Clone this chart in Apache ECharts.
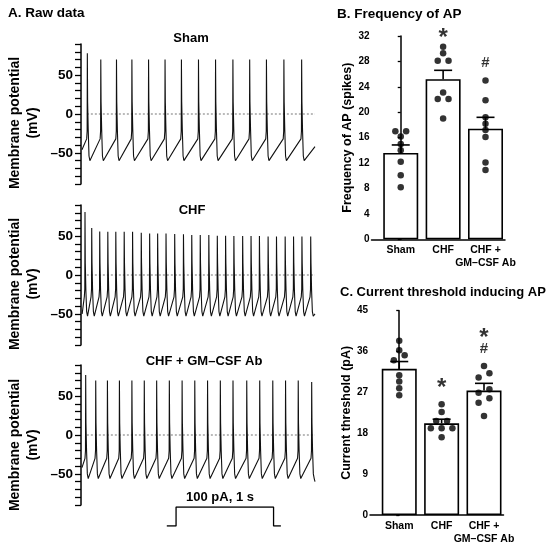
<!DOCTYPE html>
<html>
<head>
<meta charset="utf-8">
<script src="https://cdn.jsdelivr.net/npm/echarts@6/dist/echarts.min.js"></script>
<style>
  html, body { margin: 0; padding: 0; background: #fff; }
  #chart { width: 550px; height: 547px; }
</style>
</head>
<body>
<div id="chart"></div>
<script>
// Raw traces: spike peak times (ms) and peak voltages (mV)
const shamSpikeTimes = [65, 203, 364, 522, 693, 862, 1030, 1205, 1380, 1558, 1730, 1902, 2081, 2263];
const shamPeaks = [78, 70, 70, 70, 70, 70, 70, 70, 70, 70, 70, 70, 70, 70];
const shamStart = [10, -46];
const shamEnd = [2400, -42];
const shamLevels = { threshold: -32, trough: -60 };

const chfSpikeTimes = [41, 110, 192, 275, 357, 443, 529, 618, 704, 786, 872, 961, 1051, 1136,
    1223, 1311, 1398, 1483, 1568, 1658, 1744, 1830, 1919, 2005, 2094, 2180, 2266, 2356];
const chfPeaks = [81, 60.5, 56, 55.5, 55.5, 55.5, 55.5, 54.3, 53.5, 53.5, 53.5, 52.7, 52.3, 51.4,
    51.4, 51.4, 50.6, 50.6, 50.2, 50.2, 50.2, 50.2, 49.4, 49.4, 49.4, 49.4, 49.4, 49.4];
const chfStart = [12, -50];
const chfEnd = [2400, -50];
const chfLevels = { threshold: -28, trough: -53 };

const gmSpikeTimes = [48, 151, 271, 394, 522, 649, 776, 906, 1037, 1167, 1298, 1429, 1559, 1700,
    1833, 1967, 2098, 2228, 2366];
const gmPeaks = [77, 70, 70, 70, 70, 70, 70, 70, 70, 70, 70, 70, 70, 70, 70, 70, 70, 70, 68];
const gmStart = [10, -42];
const gmEnd = [2400, -60];
const gmLevels = { threshold: -30, trough: -56 };

// Stimulus: 100 pA step for 1 s
const stimTimes = [880, 975, 975, 1975, 1975, 2050];
const stimCurrent = [0, 0, 100, 100, 0, 0];

// Dotted 0 mV reference
const zeroLineTimes = [60, 2400];

// Bar charts
const groups = ['Sham', 'CHF', 'CHF +\nGM–CSF Ab'];

const freqMean = [13.6, 25.2, 17.4];
const freqSem = [1.25, 1.4, 1.8];
const freqShamDots = [17, 17, 16.2, 15, 14, 12.2, 10.1, 8.2];
const freqShamSlots = [-1, 1, 0, 0, 0, 0, 0, 0];
const freqChfDots = [30.3, 29.3, 28.1, 28.1, 23.1, 22.1, 22.1, 19];
const freqChfSlots = [0, 0, -1, 1, 0, -1, 1, 0];
const freqGmDots = [25, 21.9, 19.2, 18.2, 17.2, 16.1, 12.1, 10.9];
const freqGmSlots = [0, 0, 0, 0, 0, 0, 0, 0];
const freqMarks = [['*', 1, 32.4], ['#', 2, 27.7]];

const curMean = [32.2, 20.2, 27.4];
const curSem = [1.6, 0.9, 1.6];
const curShamDots = [38.4, 36.3, 35.2, 34.1, 30.8, 29.4, 27.9, 26.4];
const curShamSlots = [0, 0, 1, -1, 0, 0, 0, 0];
const curChfDots = [24.4, 22.7, 20.7, 20.7, 19.1, 19.1, 19.1, 17.1];
const curChfSlots = [0, 0, -1, 1, -2, 0, 2, 0];
const curGmDots = [32.8, 31.2, 30.3, 27.7, 26.9, 25.7, 24.7, 21.8];
const curGmSlots = [0, 1, -1, 1, -1, 1, -1, 0];
const curMarks = [['*', 1, 29.1], ['*', 2, 40.0], ['#', 2, 36.5]];

const FONT = '"Liberation Sans", Arial, sans-serif';
const SLOT_PX = 5.4;

// Build polyline of a trace from its spike times / peaks
function buildTrace(times, peaks, start, end, lv) {
    const pts = [start];
    times.forEach((tp, i) => {
        const shape = [
            [tp - 7, lv.threshold],
            [tp - 2, lv.threshold + 10],
            [tp, peaks[i]],
            [tp + 3, 15],
            [tp + 9, -20],
            [tp + 17, lv.trough + 6],
            [tp + 26, lv.trough],
            [tp + 40, lv.trough + 1.5]
        ];
        shape.forEach(p => { if (p[0] < end[0]) pts.push(p); });
    });
    pts.push(end);
    return pts;
}

function dotData(vals, slots, idx) {
    return vals.map((v, i) => ({ value: [idx, v], symbolOffset: [slots[i] * SLOT_PX, 0] }));
}

function errorBarSeries(xi, yi, mean, sem) {
    return {
        type: 'custom',
        xAxisIndex: xi, yAxisIndex: yi,
        z: 3,
        renderItem: function (params, api) {
            const base = api.coord([api.value(0), api.value(1)]);
            const top = api.coord([api.value(0), api.value(1) + api.value(2)]);
            const style = { stroke: '#000', lineWidth: 1.6 };
            return {
                type: 'group',
                children: [
                    { type: 'line', shape: { x1: base[0], y1: base[1], x2: top[0], y2: top[1] }, style: style },
                    { type: 'line', shape: { x1: top[0] - 9, y1: top[1], x2: top[0] + 9, y2: top[1] }, style: style }
                ]
            };
        },
        data: mean.map((m, i) => [i, m, sem[i]])
    };
}

function markSeries(xi, yi, marks) {
    return {
        type: 'scatter',
        xAxisIndex: xi, yAxisIndex: yi,
        symbolSize: 0,
        clip: false,
        silent: true,
        data: marks.map(m => ({
            value: [m[1], m[2]],
            label: {
                show: true, position: 'inside', formatter: m[0], color: '#000',
                fontFamily: FONT, fontWeight: 'bold',
                fontSize: m[0] === '*' ? 24 : 15,
                offset: m[0] === '*' ? [0, 5] : [0, 0]
            }
        }))
    };
}

const chart = echarts.init(document.getElementById('chart'), null, { renderer: 'canvas' });

const traceGrids = [44, 205, 365];
const traceAxis = {
    type: 'value', min: -90, max: 90, interval: 10,
    axisLine: { show: true, lineStyle: { color: '#000', width: 1.5 } },
    axisTick: { show: true, length: 6, lineStyle: { color: '#000', width: 1.3 } },
    splitLine: { show: false },
    axisLabel: {
        color: '#000', fontFamily: FONT, fontWeight: 'bold', fontSize: 13.5, margin: 8,
        formatter: v => (v === 50 ? '50' : v === 0 ? '0' : v === -50 ? '–50' : '')
    }
};
const timeAxis = { type: 'value', min: 0, max: 2400, show: false };

const barValueX = {
    type: 'value', min: -0.69, max: 2.46,
    axisLine: { show: true, onZero: false, lineStyle: { color: '#000', width: 1.5 } },
    axisTick: { show: false },
    splitLine: { show: false },
    axisLabel: {
        customValues: [0, 1, 2],
        formatter: v => groups[Math.round(v)],
        color: '#000', fontFamily: FONT, fontWeight: 'bold', fontSize: 10.5, margin: 5, lineHeight: 12.5
    }
};
function barY(max, interval, name) {
    return {
        type: 'value', min: 0, max: max, interval: interval,
        name: name, nameLocation: 'middle', nameGap: 17,
        nameTextStyle: { color: '#000', fontFamily: FONT, fontWeight: 'bold', fontSize: 12.5 },
        axisLine: { show: true, lineStyle: { color: '#000', width: 1.5 } },
        axisTick: { show: true, length: 3, lineStyle: { color: '#000', width: 1.3 } },
        splitLine: { show: false },
        axisLabel: { color: '#000', fontFamily: FONT, fontWeight: 'bold', fontSize: 10, margin: 2 }
    };
}

function textEl(text, x, y, size, align, rotation) {
    return {
        type: 'text', x: x, y: y, rotation: rotation || 0, silent: true,
        style: {
            text: text, fill: '#000', font: 'bold ' + size + 'px ' + FONT,
            align: align, verticalAlign: 'middle', textAlign: align, textVerticalAlign: 'middle'
        }
    };
}

const labelCenters = [123, 284, 445];
const graphics = [
    textEl('A. Raw data', 8, 13, 13.5, 'left'),
    textEl('B. Frequency of AP', 337, 14, 13.5, 'left'),
    textEl('C. Current threshold inducing AP', 340, 292, 13, 'left'),
    textEl('Sham', 191, 38, 13, 'center'),
    textEl('CHF', 192, 210, 13, 'center'),
    textEl('CHF + GM–CSF Ab', 204, 361, 13, 'center'),
    textEl('100 pA, 1 s', 220, 497, 13, 'center')
];
labelCenters.forEach(cy => {
    graphics.push(textEl('Membrane potential', 15, cy, 14, 'center', Math.PI / 2));
    graphics.push(textEl('(mV)', 33, cy, 14, 'center', Math.PI / 2));
});

const traceLine = (idx, data) => ({
    type: 'line', xAxisIndex: idx, yAxisIndex: idx, data: data,
    showSymbol: false, symbol: 'none', silent: true,
    lineStyle: { color: '#111', width: 1.1 }
});
const zeroLine = idx => ({
    type: 'line', xAxisIndex: idx, yAxisIndex: idx,
    data: zeroLineTimes.map(t => [t, 0]),
    showSymbol: false, symbol: 'none', silent: true, z: 1,
    lineStyle: { color: '#777', width: 1, type: [2, 2] }
});

const option = {
    animation: false,
    backgroundColor: '#fff',
    graphic: graphics,
    grid: [
        { left: 81, top: traceGrids[0], width: 234, height: 140 },
        { left: 81, top: traceGrids[1], width: 234, height: 140 },
        { left: 81, top: traceGrids[2], width: 234, height: 140 },
        { left: 81, top: 507, width: 234, height: 19 },
        { left: 371.5, top: 36, width: 133.5, height: 203.3 },
        { left: 370, top: 310.7, width: 133.5, height: 204.3 }
    ],
    xAxis: [
        Object.assign({ gridIndex: 0 }, timeAxis),
        Object.assign({ gridIndex: 1 }, timeAxis),
        Object.assign({ gridIndex: 2 }, timeAxis),
        Object.assign({ gridIndex: 3 }, timeAxis),
        Object.assign({ gridIndex: 4 }, barValueX),
        Object.assign({ gridIndex: 5 }, barValueX)
    ],
    yAxis: [
        Object.assign({ gridIndex: 0 }, traceAxis),
        Object.assign({ gridIndex: 1 }, traceAxis),
        Object.assign({ gridIndex: 2 }, traceAxis),
        { gridIndex: 3, type: 'value', min: 0, max: 100, show: false },
        Object.assign({ gridIndex: 4 }, barY(32, 4, 'Frequency of AP (spikes)')),
        Object.assign({ gridIndex: 5 }, barY(45, 9, 'Current threshold (pA)'))
    ],
    series: [
        zeroLine(0), zeroLine(1), zeroLine(2),
        traceLine(0, buildTrace(shamSpikeTimes, shamPeaks, shamStart, shamEnd, shamLevels)),
        traceLine(1, buildTrace(chfSpikeTimes, chfPeaks, chfStart, chfEnd, chfLevels)),
        traceLine(2, buildTrace(gmSpikeTimes, gmPeaks, gmStart, gmEnd, gmLevels)),
        {
            type: 'line', xAxisIndex: 3, yAxisIndex: 3,
            data: stimTimes.map((t, i) => [t, stimCurrent[i]]),
            showSymbol: false, symbol: 'none', silent: true,
            lineStyle: { color: '#000', width: 1.3 }
        },
        // Frequency of AP
        {
            type: 'bar', xAxisIndex: 4, yAxisIndex: 4, barWidth: 35, z: 2,
            itemStyle: { color: '#fff', borderColor: '#000', borderWidth: 1.6 },
            data: freqMean.map((m, i) => [i, m])
        },
        errorBarSeries(4, 4, freqMean, freqSem),
        {
            type: 'scatter', xAxisIndex: 4, yAxisIndex: 4, symbolSize: 6.5, z: 4,
            itemStyle: { color: '#000' },
            data: [].concat(dotData(freqShamDots, freqShamSlots, 0),
                dotData(freqChfDots, freqChfSlots, 1),
                dotData(freqGmDots, freqGmSlots, 2))
        },
        markSeries(4, 4, freqMarks),
        // Current threshold
        {
            type: 'bar', xAxisIndex: 5, yAxisIndex: 5, barWidth: 35, z: 2,
            itemStyle: { color: '#fff', borderColor: '#000', borderWidth: 1.6 },
            data: curMean.map((m, i) => [i, m])
        },
        errorBarSeries(5, 5, curMean, curSem),
        {
            type: 'scatter', xAxisIndex: 5, yAxisIndex: 5, symbolSize: 6.5, z: 4,
            itemStyle: { color: '#000' },
            data: [].concat(dotData(curShamDots, curShamSlots, 0),
                dotData(curChfDots, curChfSlots, 1),
                dotData(curGmDots, curGmSlots, 2))
        },
        markSeries(5, 5, curMarks)
    ]
};

chart.setOption(option);
</script>
</body>
</html>
